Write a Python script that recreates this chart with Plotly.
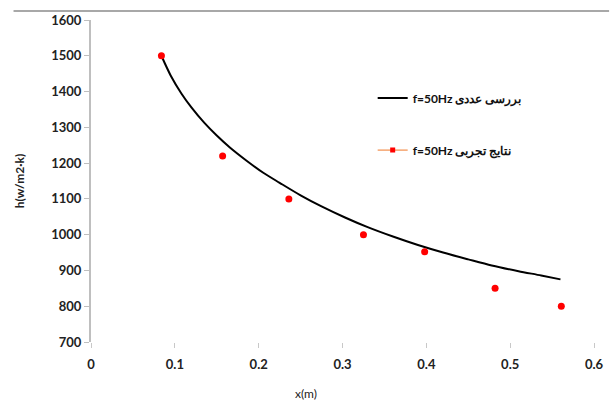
import plotly.graph_objects as go

# Numerical curve
num_x = [0.084, 0.095, 0.108, 0.12, 0.135, 0.15, 0.166, 0.186, 0.2055, 0.225, 0.25, 0.275, 0.303, 0.33, 0.361, 0.39, 0.42, 0.45, 0.478, 0.51, 0.537, 0.560]
num_h = [1500, 1445, 1394, 1355, 1313, 1277, 1243, 1206, 1173, 1145, 1110, 1079, 1048, 1021, 994, 971, 950, 931, 914, 898, 886, 875]

# Experimental points
exp_x = [0.084, 0.157, 0.236, 0.325, 0.398, 0.482, 0.561]
exp_h = [1500, 1220, 1100, 1000, 952, 850, 800]

x_ticks = [0, 0.1, 0.2, 0.3, 0.4, 0.5, 0.6]
x_ticklabels = ["0", "0.1", "0.2", "0.3", "0.4", "0.5", "0.6"]
y_ticks = [700, 800, 900, 1000, 1100, 1200, 1300, 1400, 1500, 1600]

name_num = "f=50Hz بررسی عددی"
name_exp = "f=50Hz نتایج تجربی"

FONT = "Lato, 'Noto Sans', sans-serif"

fig = go.Figure()
fig.add_trace(go.Scatter(
    x=num_x, y=num_h, mode="lines", line=dict(color="black", width=2, shape="spline", smoothing=0.8),
    name=name_num, legend="legend", showlegend=True))
fig.add_trace(go.Scatter(
    x=exp_x, y=exp_h, mode="markers", marker=dict(color="#ff0000", size=7, symbol="circle"),
    name=name_exp, showlegend=False))
fig.add_trace(go.Scatter(
    x=[None], y=[None], mode="lines+markers",
    line=dict(color="#f07828", width=1), marker=dict(color="#ff0000", size=5, symbol="square"),
    name=name_exp, legend="legend2", showlegend=True))

fig.update_layout(
    width=616, height=403,
    margin=dict(l=91, r=12, t=20, b=61),
    paper_bgcolor="white", plot_bgcolor="white",
    font=dict(family=FONT, size=12, color="#222"),
    legend=dict(x=0.56, y=0.758, xanchor="left", yanchor="middle", bgcolor="rgba(0,0,0,0)",
                font=dict(family=FONT, size=12, color="#111", weight="bold"), itemwidth=30),
    legend2=dict(x=0.56, y=0.596, xanchor="left", yanchor="middle", bgcolor="rgba(0,0,0,0)",
                 font=dict(family=FONT, size=12, color="#111", weight="bold"), itemwidth=30),
    xaxis=dict(range=[0, 0.6], tickvals=x_ticks, ticktext=x_ticklabels,
               showgrid=False, zeroline=False, showline=False,
               ticks="outside", ticklen=5, tickcolor="#c8c8c8", tickwidth=1,
               tickfont=dict(family=FONT, size=13, color="#222", weight="bold"), ticklabelstandoff=5),
    yaxis=dict(range=[700, 1600], tickvals=y_ticks,
               showgrid=False, zeroline=False, showline=True, linecolor="#bfbfbf", linewidth=2,
               ticks="outside", ticklen=5, tickcolor="#bfbfbf", tickwidth=1,
               tickfont=dict(family=FONT, size=13, color="#222", weight="bold"),
               title=dict(text="h(w/m2·k)", font=dict(family=FONT, size=12, color="#222", weight="bold"),
                          standoff=24)),
    annotations=[dict(text="x(m)", xref="paper", yref="paper", x=0.427, y=-0.16,
                      xanchor="center", yanchor="middle", showarrow=False,
                      font=dict(family=FONT, size=12, color="#222"))],
    shapes=[dict(type="line", xref="paper", yref="paper", x0=-0.154, x1=1.03, y0=1.028, y1=1.028,
                 line=dict(color="#a8a8a8", width=2))],
)

fig.write_html("out.html")
